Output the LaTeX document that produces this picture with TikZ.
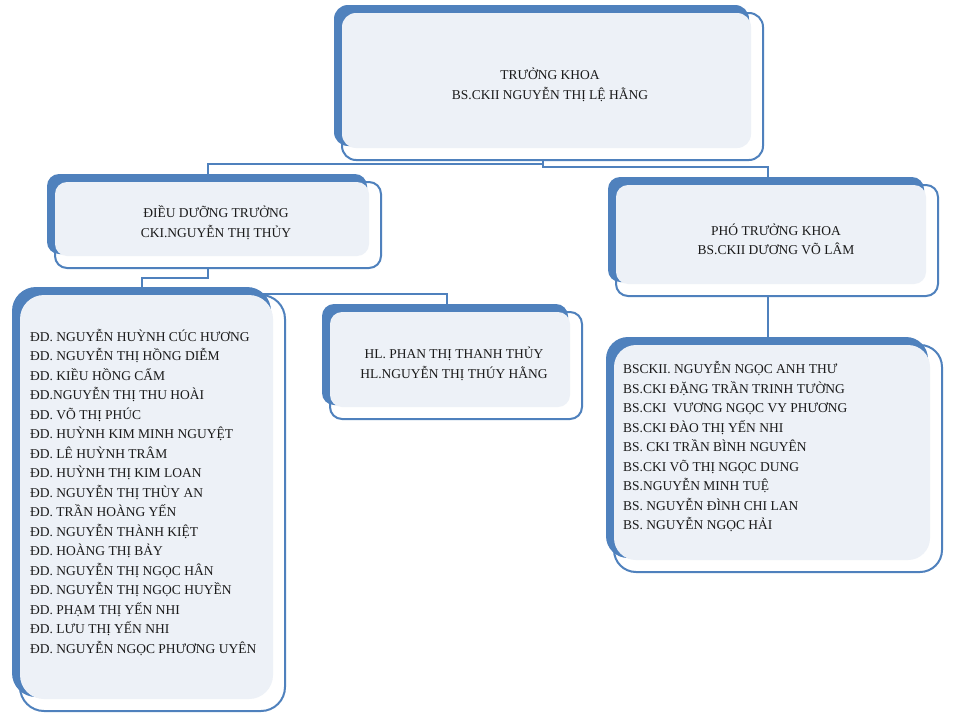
\documentclass[tikz,border=0pt]{standalone}
\usepackage{fontspec}
\setmainfont{Liberation Serif}
\usetikzlibrary{backgrounds,calc}
\definecolor{sablue}{HTML}{4F81BD}
\definecolor{salight}{HTML}{EDF1F7}
\definecolor{satext}{HTML}{1A1A1A}
\tikzset{
  frontbox/.style={draw=sablue, line width=2pt, fill=white, inner sep=0pt, outer sep=0pt},
  backbox/.style={fill=sablue, draw=none, inner sep=0pt, outer sep=0pt},
  lightbox/.style={fill=salight, draw=none, inner sep=0pt, outer sep=0pt},
  conn/.style={draw=sablue, line width=2pt},
  txt/.style={font=\fontsize{13.5}{19.5}\selectfont, text=satext, inner sep=0pt},
}
% #1 name, #2 x0, #3 y0, #4 x1, #5 y1, #6 radius
\newcommand\smartbox[6]{%
  \node[frontbox, rounded corners=#6pt,
        minimum width={(#4-#2-8)*1pt}, minimum height={(#5-#3-8)*1pt}]
        (#1F) at ({(#2+8+#4)/2},{(#3+8+#5)/2}) {};
  \node[backbox, rounded corners=#6pt,
        minimum width={(#4-#2-14)*1pt}, minimum height={(#5-#3-14)*1pt}]
        (#1B) at ({(#2+#4-14)/2},{(#3+#5-14)/2}) {};
  \node[lightbox, rounded corners=#6pt,
        minimum width={(#4-#2-20)*1pt}, minimum height={(#5-#3-20)*1pt}]
        (#1L) at ({(#2+#4-4)/2},{(#3+#5-4)/2}) {};
}
\begin{document}
\begin{tikzpicture}[x=1pt,y=-1pt]
\useasboundingbox (0,0) rectangle (953,720);

\smartbox{top}{334}{5}{763}{160}{14}
\smartbox{ddt}{47}{174}{381}{268}{12}
\smartbox{pho}{608}{177}{938}{296}{12}
\smartbox{lst}{12}{287}{285}{711}{24}
\smartbox{mid}{322}{304}{582}{419}{12}
\smartbox{rls}{606}{337}{942}{572}{22}

\node[txt, align=center] (topT) at (550,85.6)
  {\strut TRƯỞNG KHOA\\\strut BS.CKII NGUYỄN THỊ LỆ HẰNG};
\node[txt, align=center] (ddtT) at (216,223.6)
  {\strut ĐIỀU DƯỠNG TRƯỞNG\\\strut CKI.NGUYỄN THỊ THỦY};
\node[txt, align=center] (phoT) at (776,241.1)
  {\strut PHÓ TRƯỞNG KHOA\\\strut BS.CKII DƯƠNG VÕ LÂM};
\node[txt, align=center] (midT) at (454,364.8)
  {\strut HL. PHAN THỊ THANH THỦY\\\strut HL.NGUYỄN THỊ THÚY HẰNG};

\node[txt, align=left, anchor=north west] (lstT) at (30,327.5)
  {\strut ĐD. NGUYỄN HUỲNH CÚC HƯƠNG\\
   ĐD. NGUYỄN THỊ HỒNG DIỄM\\
   ĐD. KIỀU HỒNG CẨM\\
   ĐD.NGUYỄN THỊ THU HOÀI\\
   ĐD. VÕ THỊ PHÚC\\
   ĐD. HUỲNH KIM MINH NGUYỆT\\
   ĐD. LÊ HUỲNH TRÂM\\
   ĐD. HUỲNH THỊ KIM LOAN\\
   ĐD. NGUYỄN THỊ THÙY AN\\
   ĐD. TRẦN HOÀNG YẾN\\
   ĐD. NGUYỄN THÀNH KIỆT\\
   ĐD. HOÀNG THỊ BẢY\\
   ĐD. NGUYỄN THỊ NGỌC HÂN\\
   ĐD. NGUYỄN THỊ NGỌC HUYỀN\\
   ĐD. PHẠM THỊ YẾN NHI\\
   ĐD. LƯU THỊ YẾN NHI\\
   ĐD. NGUYỄN NGỌC PHƯƠNG UYÊN};

\node[txt, align=left, anchor=north west] (rlsT) at (623,360.1)
  {\strut BSCKII. NGUYỄN NGỌC ANH THƯ\\
   BS.CKI ĐẶNG TRẦN TRINH TƯỜNG\\
   BS.CKI\ \ VƯƠNG NGỌC VY PHƯƠNG\\
   BS.CKI ĐÀO THỊ YẾN NHI\\
   BS. CKI TRẦN BÌNH NGUYÊN\\
   BS.CKI VÕ THỊ NGỌC DUNG\\
   BS.NGUYỄN MINH TUỆ\\
   BS. NGUYỄN ĐÌNH CHI LAN\\
   BS. NGUYỄN NGỌC HẢI};

\coordinate (hlstart) at (250,294);

\begin{pgfonlayer}{background}
  \fill[white] (0,0) rectangle (953,720);
  \draw[conn] ([xshift=1pt]topB.south) |- ([xshift=1pt,yshift=10pt]ddtB.north) -- ([xshift=1pt]ddtB.north);
  \draw[conn] ([xshift=1pt]topB.south) |- ([xshift=2pt,yshift=10pt]phoB.north) -- ([xshift=2pt]phoB.north);
  \draw[conn] ([xshift=1pt]ddtB.south) |- ([yshift=9pt]lstB.north) -- (lstB.north);
  \draw[conn] (hlstart) -| ([xshift=2pt]midB.north);
  \draw[conn] ([xshift=2pt]phoB.south) -- ([xshift=2pt]phoB.south |- rlsB.north);
\end{pgfonlayer}
\end{tikzpicture}
\end{document}
